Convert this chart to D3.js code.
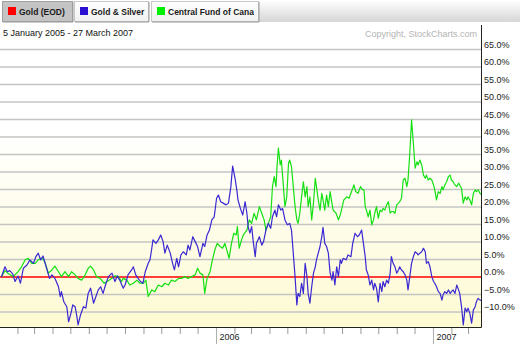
<!DOCTYPE html>
<html>
<head>
<meta charset="utf-8">
<script src="https://cdn.jsdelivr.net/npm/d3@7/dist/d3.min.js"></script>
<style>
  html, body { margin: 0; padding: 0; background: #fff; }
  svg { display: block; font-family: "Liberation Sans", Arial, sans-serif; }
</style>
</head>
<body>
<svg id="chart" width="520" height="344"></svg>
<script>
// Relative performance against gold, in percent, keyed by days since 5 January 2005
const startDate = new Date(2005, 0, 5);
const endDate = new Date(2007, 2, 27);
const seriesNames = ["Gold (EOD)", "Gold & Silver", "Central Fund of Cana"];
const dateRangeLabel = "5 January 2005 - 27 March 2007";
const creditLabel = "Copyright, StockCharts.com";

const gsDay = [0,6,10,14,19,23,28,32,37,43,48,54,58,62,66,70,76,81,85,90,96,99,101,105,110,113,117,120,124,127,129,133,138,142,146,150,155,159,163,167,171,176,180,186,191,195,199,205,208,213,219,222,226,230,234,238,242,247,250,253,255,260,264,268,272,275,279,284,288,291,295,298,302,306,311,314,317,322,326,330,334,339,342,346,350,354,358,362,365,369,373,378,382,386,389,393,396,398,402,406,410,413,415,418,421,424,427,429,434,438,441,445,449,453,456,460,463,466,470,473,477,481,485,488,491,494,497,499,502,505,508,511,514,516,519,522,525,528,530,533,536,539,541,544,547,550,553,556,558,561,564,567,570,572,575,580,583,588,591,595,599,602,606,609,612,614,617,620,623,626,628,631,634,637,640,642,645,648,651,654,656,659,662,665,668,670,673,676,679,682,684,687,690,693,696,699,701,704,707,710,713,715,718,721,724,727,729,732,735,738,741,743,746,749,752,755,757,760,763,766,769,771,774,777,780,783,785,788,791,794,797,799,802,805,811];
const gsPct = [0,2.9,1.5,1.8,0.9,-1.3,0.3,-1.8,2.5,3.4,4.9,3.9,5.8,6.8,4.9,6.0,2.5,-0.4,0.6,-0.4,-2.8,-5.6,-4.2,-7.1,-8.5,-12.8,-10.4,-8.0,-8.5,-11.3,-13.7,-10.9,-8.5,-8.9,-4.7,-3.2,-7.5,-5.6,-3.7,-2.8,-4.7,-1.8,0.1,1.1,-1.3,0.3,-0.9,-3.2,-2.3,0.6,2.0,2.9,0.6,-0.4,-1.3,-1.8,1.5,3.9,4.9,8.2,10.6,9.6,10.6,12.0,10.1,6.8,9.1,6.8,3.9,2.0,5.3,2.9,6.3,7.2,6.3,9.1,7.7,11.5,10.1,8.7,5.8,9.6,8.7,12.0,13.4,16.3,17.2,22.5,23.4,21.5,21.1,20.6,21.1,25.8,31.7,28.2,24.9,22.0,19.6,17.7,21.5,18.2,14.4,12.5,14.4,9.6,5.8,9.6,11.5,9.1,10.1,13.4,15.3,13.9,17.2,19.1,17.2,20.6,19.1,19.6,16.3,14.9,15.3,13.4,6.8,0.1,-8.0,-4.7,-5.6,-1.8,-4.7,3.9,0.1,-4.7,-7.5,-2.8,1.1,2.9,4.9,6.8,8.7,11.5,14.2,9.6,8.7,6.8,1.1,-0.9,1.5,-2.3,2.9,0.1,4.9,3.9,5.3,4.9,6.3,5.8,9.6,12.5,11.5,12.0,13.4,9.6,5.8,2.0,0.6,-2.3,-0.9,-3.7,-1.8,-3.2,-7.1,-1.8,-4.2,-1.3,-2.8,-0.9,-1.8,1.1,5.8,3.9,2.9,1.1,2.0,2.9,2.0,1.5,0.6,-0.9,-3.7,0.1,3.9,5.8,7.2,6.8,6.3,6.8,7.2,8.2,7.2,3.9,4.4,2.9,0.1,-1.3,-1.8,-2.8,-4.2,-4.7,-6.6,-5.1,-4.2,-4.7,-3.7,-4.7,-4.2,-3.7,-4.7,-2.3,-3.7,-4.7,-8.5,-13.7,-8.9,-9.9,-8.9,-10.4,-13.2,-9.4,-8.5,-7.1,-6.1,-6.6,-7.0];

const cefDay = [0,6,12,20,28,34,40,45,51,57,62,68,73,79,85,90,96,101,107,113,118,124,129,135,141,146,150,155,160,166,173,178,186,191,197,202,205,211,216,222,228,233,239,243,247,253,258,264,270,275,281,286,292,298,303,309,314,320,326,330,334,339,342,346,351,355,359,363,368,372,376,380,383,387,391,395,397,400,404,407,413,417,421,425,429,434,438,442,445,449,453,456,459,462,464,466,469,471,474,477,480,483,485,488,491,494,497,499,502,505,508,511,514,516,519,522,525,528,530,533,536,539,541,544,547,550,553,556,558,563,567,570,572,576,581,585,589,593,596,600,604,608,610,612,614,617,620,623,626,628,631,634,637,640,642,645,648,651,654,656,659,662,665,668,670,673,676,679,682,684,687,690,693,696,699,701,704,707,710,713,715,718,721,724,727,729,732,735,738,741,743,746,749,752,755,757,760,763,766,769,771,774,777,780,783,785,788,791,794,797,799,802,805,811];
const cefPct = [0,1.8,0.9,0.1,1.5,2.9,4.9,5.3,3.9,3.9,4.9,5.3,4.4,1.1,2.0,3.1,1.5,0.1,1.5,0.1,1.5,0.6,-0.4,-0.9,0.6,2.5,3.1,2.0,0.1,-0.4,-1.8,-1.3,-0.4,0.3,0.1,-1.3,-0.4,-0.9,-2.3,-1.8,-0.9,-1.8,-1.8,-0.9,-5.6,-3.7,-4.2,-2.3,-2.8,-1.8,-2.3,-0.9,-1.3,-0.4,-0.4,0.1,-0.4,0.1,0.6,2.5,1.1,0.6,-4.7,-0.4,1.5,4.9,7.7,9.6,8.7,8.2,9.6,7.2,5.3,9.6,12.5,12.0,14.4,8.2,10.6,12.0,13.4,16.3,15.3,18.2,16.3,20.1,18.2,16.3,13.4,15.3,17.2,25.8,28.7,25.8,32.5,36.8,32.0,33.4,26.8,20.1,22.9,32.5,33.4,31.5,25.8,20.1,16.3,15.3,18.2,22.9,27.2,22.9,25.8,20.1,22.9,16.3,21.1,28.2,25.8,22.0,19.1,23.9,22.0,19.1,23.4,20.1,24.4,21.1,19.1,18.2,16.3,17.7,19.1,22.0,22.9,22.5,24.4,26.3,24.4,23.9,25.8,24.9,24.9,20.1,19.1,17.2,19.1,14.9,16.3,18.2,20.1,16.8,19.1,18.7,19.6,19.1,20.6,21.5,18.2,18.7,18.7,18.2,20.6,21.1,21.5,22.5,27.7,28.2,25.8,27.7,35.3,44.9,38.2,31.1,32.9,32.0,33.4,32.0,29.1,28.2,29.1,27.7,28.2,27.7,26.3,24.9,22.0,24.4,23.9,25.8,24.9,26.3,27.2,28.7,29.1,27.7,27.2,26.3,25.8,26.8,26.3,25.3,21.1,22.9,22.0,22.9,22.0,20.6,23.9,24.9,24.4,24.9,23.9,23.0];

const yTickValues = [-10,-5,0,5,10,15,20,25,30,35,40,45,50,55,60,65];

// ---- layout ----
const W = 520, H = 344;
const plot = { left: 0, right: 481, top: 25, bottom: 327 };
const lineColors = { gold: "#ff0000", gs: "#3a28d2", cef: "#14e014" };

const svg = d3.select("#chart");
const defs = svg.append("defs");

const bg = defs.append("linearGradient").attr("id", "plotBg")
  .attr("x1", 0).attr("y1", 0).attr("x2", 0).attr("y2", 1);
bg.append("stop").attr("offset", "0%").attr("stop-color", "#ffffff");
bg.append("stop").attr("offset", "35%").attr("stop-color", "#ffffff");
bg.append("stop").attr("offset", "100%").attr("stop-color", "#fdfad2");

const barGrad = defs.append("linearGradient").attr("id", "barBg")
  .attr("x1", 0).attr("y1", 0).attr("x2", 0).attr("y2", 1);
barGrad.append("stop").attr("offset", "0%").attr("stop-color", "#ffffff");
barGrad.append("stop").attr("offset", "100%").attr("stop-color", "#d6d6d6");

const tabGrad = defs.append("linearGradient").attr("id", "tabBg")
  .attr("x1", 0).attr("y1", 0).attr("x2", 0).attr("y2", 1);
tabGrad.append("stop").attr("offset", "0%").attr("stop-color", "#ffffff");
tabGrad.append("stop").attr("offset", "100%").attr("stop-color", "#f0f0f0");

defs.append("clipPath").attr("id", "plotClip")
  .append("rect").attr("x", plot.left).attr("y", plot.top)
  .attr("width", plot.right - plot.left).attr("height", plot.bottom - plot.top);

// ---- scales ----
const x = d3.scaleTime().domain([startDate, endDate]).range([1.4, 483.5]);
const y = d3.scaleLinear().domain([-14.3, 72]).range([plot.bottom, plot.top]);

// ---- plot background ----
svg.append("rect").attr("x", plot.left).attr("y", plot.top)
  .attr("width", plot.right - plot.left).attr("height", plot.bottom - plot.top)
  .attr("fill", "url(#plotBg)");

// ---- header tabs ----
svg.append("rect").attr("x", 259).attr("y", 0).attr("width", W - 259).attr("height", 22)
  .attr("fill", "url(#barBg)");

const tabs = [
  { x: 2, w: 70, selected: true },
  { x: 74, w: 74, selected: false },
  { x: 151, w: 107, selected: false }
];
const tabColors = [lineColors.gold, "#2a10d0", "#00ee00"];
const tabG = svg.append("g");
tabs.forEach((t, i) => {
  const g = tabG.append("g").attr("transform", `translate(${t.x},1)`);
  g.append("rect").attr("x", 0.5).attr("y", 0.5).attr("width", t.w).attr("height", 20)
    .attr("fill", t.selected ? "#c4c4c4" : "url(#tabBg)")
    .attr("stroke", t.selected ? "#a0a0a0" : "#c8c8c8");
  g.append("line").attr("x1", t.w + 1).attr("x2", t.w + 1).attr("y1", 1).attr("y2", 21)
    .attr("stroke", "#9a9a9a");
  g.append("line").attr("x1", 1).attr("x2", t.w + 1).attr("y1", 21).attr("y2", 21)
    .attr("stroke", "#9a9a9a");
  g.append("rect").attr("x", 6).attr("y", 6).attr("width", 8).attr("height", 8)
    .attr("fill", tabColors[i]);
  g.append("text").attr("x", 17).attr("y", 14)
    .attr("font-size", 8.5).attr("font-weight", "bold").attr("fill", "#1a1a1a")
    .text(seriesNames[i]);
});

// ---- header texts ----
svg.append("text").attr("x", 3).attr("y", 36).attr("font-size", 9).attr("fill", "#111")
  .text(dateRangeLabel);
svg.append("text").attr("x", 477).attr("y", 37).attr("text-anchor", "end")
  .attr("font-size", 9).attr("fill", "#b4b4b4").text(creditLabel);

// ---- gridlines ----
svg.append("g").selectAll("line").data(yTickValues.filter(v => v !== 0)).join("line")
  .attr("x1", plot.left).attr("x2", plot.right)
  .attr("y1", d => y(d)).attr("y2", d => y(d))
  .attr("stroke", "#c4c4c4").attr("stroke-width", 1.4);

// ---- right axis labels ----
const yAxis = d3.axisRight(y).tickValues(yTickValues).tickSize(0).tickPadding(3)
  .tickFormat(d => d3.format(".1f")(d) + "%");
const yAxisG = svg.append("g").attr("transform", `translate(${plot.right},0)`).call(yAxis);
yAxisG.select(".domain").remove();
yAxisG.selectAll("text")
  .attr("font-family", "'Liberation Sans', Arial, sans-serif")
  .attr("font-size", 9).attr("fill", "#222")
  .attr("dy", "-0.25em");

// ---- series lines ----
const line = d3.line()
  .x(d => x(d3.timeDay.offset(startDate, d[0])))
  .y(d => y(d[1]));
const lines = svg.append("g").attr("clip-path", "url(#plotClip)");

lines.append("line")
  .attr("x1", plot.left).attr("x2", plot.right)
  .attr("y1", y(0)).attr("y2", y(0))
  .attr("stroke", lineColors.gold).attr("stroke-width", 1.5);

lines.append("path").datum(d3.zip(cefDay, cefPct))
  .attr("d", line).attr("fill", "none")
  .attr("stroke", lineColors.cef).attr("stroke-width", 1.2).attr("stroke-linejoin", "round");

lines.append("path").datum(d3.zip(gsDay, gsPct))
  .attr("d", line).attr("fill", "none")
  .attr("stroke", lineColors.gs).attr("stroke-width", 1.2).attr("stroke-linejoin", "round");

// ---- bottom axis: month ticks and year labels ----
const monthAxis = d3.axisBottom(x)
  .ticks(d3.timeMonth.every(1)).tickSize(7).tickFormat("");
const monthG = svg.append("g").attr("transform", `translate(0,${plot.bottom})`).call(monthAxis);
monthG.select(".domain").remove();
monthG.selectAll(".tick line").attr("stroke", "#9a9a9a");

const yearAxis = d3.axisBottom(x)
  .ticks(d3.timeYear.every(1)).tickSize(18).tickFormat(d3.timeFormat("%Y"));
const yearG = svg.append("g").attr("transform", `translate(0,${plot.bottom})`).call(yearAxis);
yearG.select(".domain").remove();
yearG.selectAll(".tick line").attr("stroke", "#b0b0b0");
yearG.selectAll(".tick text")
  .attr("font-family", "'Liberation Sans', Arial, sans-serif")
  .attr("font-size", 9).attr("fill", "#222")
  .attr("text-anchor", "start").attr("x", 3).attr("y", 7).attr("dy", "0.71em");

// ---- frame ----
svg.append("line").attr("x1", plot.left).attr("x2", plot.right + 0.5)
  .attr("y1", plot.bottom + 0.5).attr("y2", plot.bottom + 0.5)
  .attr("stroke", "#222").attr("stroke-width", 1);
svg.append("line").attr("x1", plot.right + 0.5).attr("x2", plot.right + 0.5)
  .attr("y1", plot.top).attr("y2", plot.bottom + 0.5)
  .attr("stroke", "#222").attr("stroke-width", 1);
</script>
</body>
</html>
